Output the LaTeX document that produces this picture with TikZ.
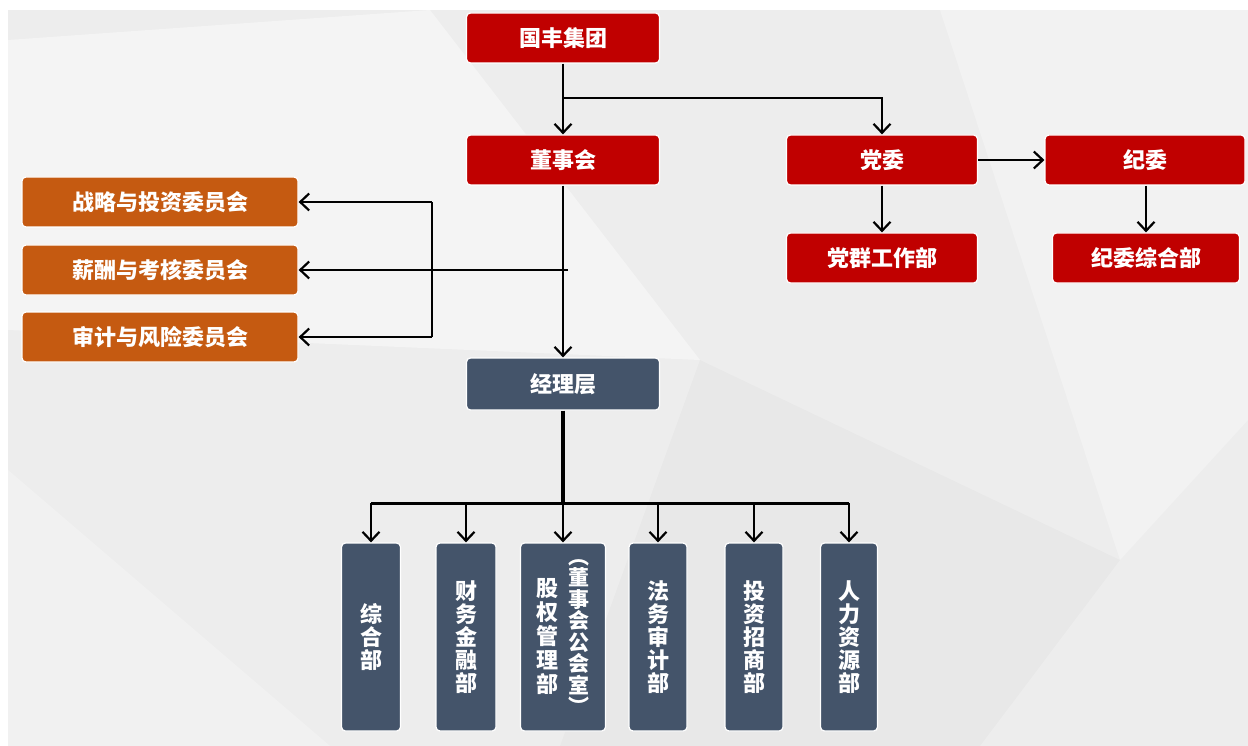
\documentclass[tikz,border=0pt]{standalone}
\usepackage{fontspec}
\newfontfamily\cjk{Noto Sans CJK SC}
\usetikzlibrary{arrows.meta}
\definecolor{hongse}{HTML}{C00000}
\definecolor{chengse}{HTML}{C55A11}
\definecolor{lanse}{HTML}{44546A}
\definecolor{dise}{HTML}{EDEDED}

\begin{document}
\begin{tikzpicture}[x=1pt,y=-1pt]
\tikzstyle{kuang} = [draw=white, line width=1.2pt, rounded corners=4pt, text=white, font=\cjk\bfseries\fontsize{22}{23}\selectfont, inner sep=0pt, align=center]
\tikzstyle{hong} = [kuang, fill=hongse, minimum width=193pt, minimum height=50pt]
\tikzstyle{cheng} = [kuang, fill=chengse, minimum width=276pt, minimum height=50pt]
\tikzstyle{lan} = [kuang, fill=lanse, minimum width=193pt, minimum height=52pt]
\tikzstyle{shu} = [kuang, fill=lanse, minimum height=188pt]
\tikzstyle{jiantou} = [-{Straight Barb[length=9pt,width=17pt]}, line width=2.2pt]
\useasboundingbox (0,0) rectangle (1248,746);
\fill[white] (0,0) rectangle (1248,746);
\fill[dise] (8,10) rectangle (1248,746);
\fill[white,opacity=0.4] (8,40) -- (430,10) -- (700,360) -- (8,330) -- cycle;
\fill[white,opacity=0.3] (940,10) -- (1248,10) -- (1248,420) -- (1120,560) -- cycle;
\fill[white,opacity=0.25] (8,470) -- (330,746) -- (8,746) -- cycle;
\fill[black,opacity=0.02] (700,360) -- (1120,560) -- (980,746) -- (560,746) -- cycle;

\node[hong] (gf) at (563,38) {国丰集团};
\node[hong] (dsh) at (563,160) {董事会};
\node[hong, minimum width=191pt] (dw) at (882,160) {党委};
\node[hong, minimum width=200pt] (jw) at (1145,160) {纪委};
\node[hong, minimum width=191pt] (dq) at (882,258) {党群工作部};
\node[hong, minimum width=187pt] (jwz) at (1146,258) {纪委综合部};
\node[cheng] (zl) at (160,202) {战略与投资委员会};
\node[cheng] (xc) at (160,270) {薪酬与考核委员会};
\node[cheng] (sj) at (160,337) {审计与风险委员会};
\node[lan] (jl) at (563,384) {经理层};
\node[shu, minimum width=59pt] (b1) at (371,637) {综\\合\\部};
\node[shu, minimum width=60pt] (b2) at (466,637) {财\\务\\金\\融\\部};
\node[shu, minimum width=85pt] (b3) at (563,637) {\parbox[c]{24pt}{\centering\fontsize{22}{24}\selectfont 股\\权\\管\\理\\部}\hspace{8pt}\parbox[c]{24pt}{\centering\fontsize{21}{21.5}\selectfont\lineskiplimit=-20pt ︵\\董\\事\\会\\公\\会\\室\\︶}};
\node[shu, minimum width=58pt] (b4) at (658,637) {法\\务\\审\\计\\部};
\node[shu, minimum width=58pt] (b5) at (754,637) {投\\资\\招\\商\\部};
\node[shu, minimum width=57pt] (b6) at (849,637) {人\\力\\资\\源\\部};

\coordinate (fz) at (563,98);
\coordinate (hz) at (568,270);
\coordinate (k1) at (432,202);
\coordinate (k2) at (432,337);
\coordinate (bus) at (563,503);

\draw[jiantou] (gf) -- (dsh);
\draw[jiantou] (fz) -| (dw);
\draw[jiantou] (dw) -- (jw);
\draw[jiantou] (dw) -- (dq);
\draw[jiantou] (jw.south -| jwz) -- (jwz);
\draw[jiantou] (dsh) -- (jl);
\draw[jiantou] (hz) -- (xc);
\draw[line width=2.2pt] (k1) -- (k2);
\draw[jiantou] (k1) -- (zl);
\draw[jiantou] (k2) -- (sj);
\draw[line width=3.5pt] (jl) -- (bus);
\draw[line width=3pt] (b1 |- bus) -- (b6 |- bus);
\foreach \b in {b1,b2,b3,b4,b5,b6}
  \draw[jiantou] (\b |- bus) -- (\b);
\end{tikzpicture}
\end{document}
